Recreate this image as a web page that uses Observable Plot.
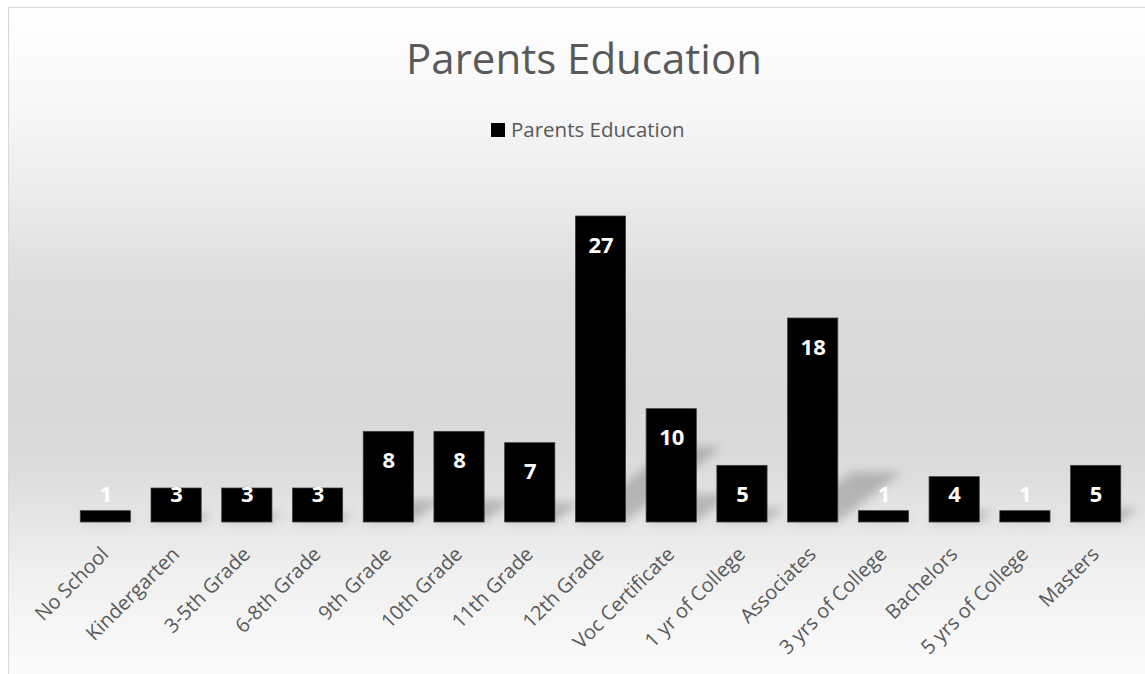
<!DOCTYPE html>
<html>
<head>
<meta charset="utf-8">
<script src="https://cdn.jsdelivr.net/npm/d3@7"></script>
<script src="https://cdn.jsdelivr.net/npm/@observablehq/plot@0.6"></script>
<style>
  html, body { margin: 0; padding: 0; overflow: hidden; background: #fff; }
  #chart { position: relative; width: 1145px; height: 674px; overflow: hidden; font-family: "Open Sans", sans-serif; }
  #bg { position: absolute; left: 8px; top: 7px; width: 1200px; height: 720px; border: 1px solid #d9d9d9;
        background: linear-gradient(to bottom, #ffffff 0px, #f7f7f7 100px, #ebebeb 190px, #dcdcdc 280px, #d8d8d8 400px, #dcdcdc 460px, #e6e6e6 515px, #efefef 560px, #f6f6f6 620px, #fbfbfb 670px); }
  #title { position: absolute; left: 0; width: 1168px; top: 29px; text-align: center; font-size: 42px; color: #595959; line-height: normal; }
  #legend-sw { position: absolute; left: 491px; top: 123px; width: 14px; height: 14px; background: #000; }
  #legend-tx { position: absolute; left: 511px; top: 115px; font-size: 20.5px; color: #595959; line-height: normal; }
  #plot { position: absolute; left: 0; top: 160px; }
</style>
</head>
<body>
<div id="chart">
  <div id="bg"></div>
  <div id="title">Parents Education</div>
  <div id="legend-sw"></div>
  <div id="legend-tx">Parents Education</div>
  <div id="plot"></div>
</div>
<script>
const categories = ["No School", "Kindergarten", "3-5th Grade", "6-8th Grade", "9th Grade", "10th Grade", "11th Grade", "12th Grade", "Voc Certificate", "1 yr of College", "Associates", "3 yrs of College", "Bachelors", "5 yrs of College", "Masters"];
const values = [1, 3, 3, 3, 8, 8, 7, 27, 10, 5, 18, 1, 4, 1, 5];

const data = categories.map((c, i) => ({category: c, value: values[i]}));

const plot = Plot.plot({
  width: 1145,
  height: 514,
  marginLeft: 70,
  marginRight: 14,
  marginTop: 22,
  marginBottom: 152,
  style: {background: "transparent", overflow: "visible", fontFamily: "Open Sans, sans-serif"},
  x: {domain: categories, paddingInner: 0.29, paddingOuter: 0.145, round: false, axis: null},
  y: {domain: [0, 30], axis: null},
  marks: [
    Plot.barY(data, {x: "category", y: "value", fill: "#000", fillOpacity: 0.2}),
    Plot.barY(data, {x: "category", y: "value", fill: "#000", stroke: "#3f3f3f", strokeWidth: 0.75}),
    Plot.text(data, {x: "category", y: d => Math.max(d.value, 5), dy: 29, text: d => String(d.value), fill: "#fff", fontWeight: "bold", fontSize: 22}),
    Plot.text(data, {x: "category", frameAnchor: "bottom", dy: 33, dx: 4, rotate: -45, textAnchor: "end", text: "category", fill: "#595959", fontSize: 20})
  ]
});

document.getElementById("plot").appendChild(plot);

// Perspective shadow: squash and skew the first (shadow) bar layer from the baseline, then blur it
const ns = "http://www.w3.org/2000/svg";
let B = 362;
try { const ys = plot.scale && plot.scale("y"); if (ys && ys.apply) B = ys.apply(0); } catch (e) {}
const defs = document.createElementNS(ns, "defs");
defs.innerHTML = '<filter id="shadowBlur" filterUnits="userSpaceOnUse" x="0" y="0" width="1145" height="514"><feGaussianBlur stdDeviation="5"/></filter>';
plot.insertBefore(defs, plot.firstChild);
const sg = plot.querySelector('g[aria-label="bar"]');
if (sg) {
  sg.setAttribute("transform", `translate(0,${B}) skewX(-52) scale(1,0.245) translate(0,${-B})`);
  const wrap = document.createElementNS(ns, "g");
  wrap.setAttribute("filter", "url(#shadowBlur)");
  sg.parentNode.insertBefore(wrap, sg);
  wrap.appendChild(sg);
}
</script>
</body>
</html>
